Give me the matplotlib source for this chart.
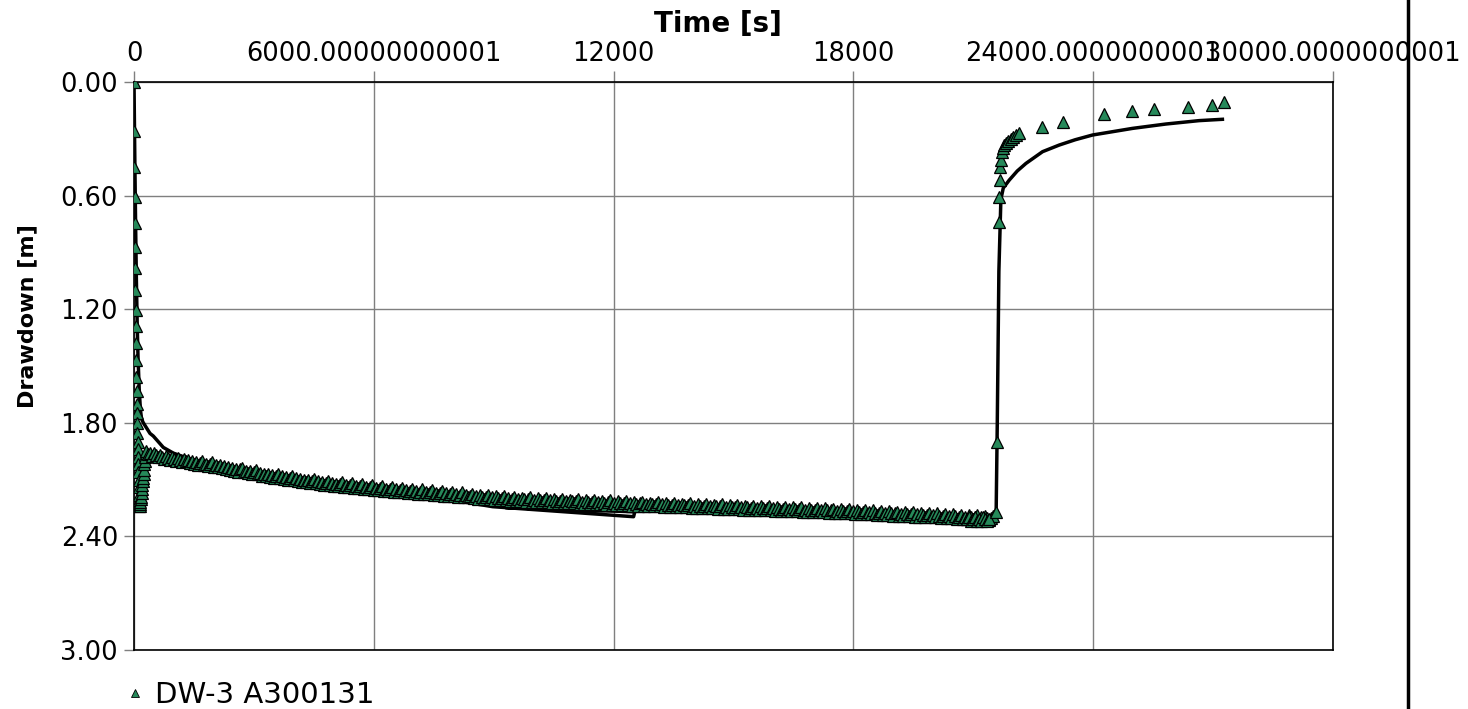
import matplotlib
matplotlib.use("Agg")
import matplotlib.pyplot as plt
from matplotlib.lines import Line2D

plt.rcParams['font.family'] = ['DejaVu Sans']

# ---- axis ticks -----------------------------------------------------------
x_ticks = [0, 6000, 12000, 18000, 24000, 30000]
x_tick_labels = ["0", "6000.00000000001", "12000", "18000",
                 "24000.0000000001", "30000.0000000001"]
y_ticks = [0.0, 0.6, 1.2, 1.8, 2.4, 3.0]
y_tick_labels = ["0.00", "0.60", "1.20", "1.80", "2.40", "3.00"]

series_name = "DW-3 A300131"

# ---- observed drawdown: early pumping (fast drop and rebound) -------------
early_t = [0, 5, 10, 15, 20, 25, 30, 35, 40, 45, 50, 55, 60, 65, 70, 75, 80,
           85, 90, 95, 100, 105, 110, 115, 120, 125, 130, 135,
           140, 150, 160, 170, 180, 190, 200, 210, 220, 230, 240, 250, 260,
           270, 280, 290]
early_s = [0.00, 0.26, 0.45, 0.61, 0.745, 0.87, 0.98, 1.10, 1.205, 1.29, 1.38,
           1.47, 1.56, 1.63, 1.70, 1.75, 1.80, 1.855, 1.90, 1.94, 1.98, 2.02,
           2.06, 2.10, 2.14, 2.18, 2.21, 2.24,
           2.24, 2.23, 2.22, 2.20, 2.19, 2.17, 2.15, 2.13, 2.11, 2.09, 2.07,
           2.05, 2.02, 2.00, 1.98, 1.96]

# ---- observed drawdown: logger readings every 50 s, 300 s .. 21500 s -------
pump_t = list(range(300, 21550, 50))
pump_s = [
    1.950, 1.966, 1.958, 1.976, 1.962, 1.971, 1.983, 1.968, 1.979, 1.990,
    1.974, 1.986, 1.995, 1.981, 1.992, 2.001, 1.985, 1.997, 2.006, 1.992,
    2.004, 1.996, 2.011, 2.002, 2.017, 2.006, 2.021, 2.010, 2.003, 2.024,
    2.015, 2.029, 2.018, 2.009, 2.031, 2.022, 2.036, 2.025, 2.040, 2.030,
    2.044, 2.033, 2.049, 2.038, 2.052, 2.043, 2.058, 2.046, 2.037, 2.061,
    2.052, 2.066, 2.055, 2.070, 2.059, 2.049, 2.073, 2.064, 2.079, 2.068,
    2.082, 2.071, 2.086, 2.075, 2.090, 2.079, 2.068, 2.093, 2.083, 2.097,
    2.086, 2.100, 2.089, 2.080, 2.103, 2.093, 2.107, 2.096, 2.111, 2.100,
    2.113, 2.102, 2.117, 2.106, 2.096, 2.120, 2.110, 2.124, 2.113, 2.127,
    2.116, 2.106, 2.130, 2.119, 2.133, 2.122, 2.136, 2.125, 2.115, 2.138,
    2.128, 2.141, 2.130, 2.119, 2.144, 2.133, 2.147, 2.136, 2.125, 2.149,
    2.138, 2.152, 2.141, 2.130, 2.155, 2.143, 2.157, 2.146, 2.135, 2.159,
    2.148, 2.161, 2.150, 2.139, 2.164, 2.152, 2.166, 2.155, 2.144, 2.168,
    2.157, 2.170, 2.159, 2.148, 2.172, 2.161, 2.174, 2.163, 2.152, 2.176,
    2.165, 2.178, 2.167, 2.156, 2.180, 2.169, 2.182, 2.171, 2.160, 2.184,
    2.173, 2.186, 2.175, 2.164, 2.188, 2.177, 2.190, 2.179, 2.168, 2.192,
    2.181, 2.194, 2.186, 2.175, 2.197, 2.188, 2.200, 2.183, 2.192, 2.203,
    2.191, 2.180, 2.205, 2.194, 2.206, 2.187, 2.197, 2.208, 2.196, 2.186,
    2.209, 2.198, 2.211, 2.200, 2.190, 2.213, 2.202, 2.214, 2.196, 2.205,
    2.216, 2.204, 2.193, 2.217, 2.206, 2.218, 2.199, 2.208, 2.219, 2.207,
    2.197, 2.220, 2.209, 2.221, 2.203, 2.212, 2.223, 2.211, 2.200, 2.224,
    2.213, 2.225, 2.206, 2.215, 2.226, 2.214, 2.204, 2.227, 2.216, 2.228,
    2.209, 2.218, 2.229, 2.217, 2.207, 2.230, 2.219, 2.231, 2.212, 2.221,
    2.232, 2.220, 2.210, 2.233, 2.222, 2.234, 2.215, 2.224, 2.235, 2.223,
    2.213, 2.236, 2.225, 2.237, 2.218, 2.227, 2.238, 2.226, 2.216, 2.239,
    2.228, 2.240, 2.221, 2.230, 2.241, 2.229, 2.219, 2.242, 2.231, 2.243,
    2.224, 2.233, 2.244, 2.232, 2.222, 2.245, 2.234, 2.246, 2.227, 2.236,
    2.247, 2.235, 2.225, 2.248, 2.237, 2.249, 2.229, 2.238, 2.250, 2.239,
    2.228, 2.251, 2.240, 2.252, 2.232, 2.241, 2.253, 2.242, 2.231, 2.254,
    2.243, 2.255, 2.234, 2.244, 2.256, 2.245, 2.235, 2.257, 2.246, 2.258,
    2.238, 2.247, 2.259, 2.248, 2.237, 2.260, 2.249, 2.261, 2.240, 2.250,
    2.262, 2.251, 2.241, 2.263, 2.252, 2.264, 2.243, 2.253, 2.265, 2.254,
    2.244, 2.266, 2.255, 2.267, 2.246, 2.256, 2.268, 2.257, 2.247, 2.269,
    2.258, 2.270, 2.249, 2.259, 2.271, 2.260, 2.250, 2.272, 2.261, 2.273,
    2.252, 2.262, 2.274, 2.263, 2.253, 2.275, 2.264, 2.276, 2.256, 2.266,
    2.278, 2.267, 2.257, 2.279, 2.268, 2.280, 2.259, 2.270, 2.282, 2.271,
    2.261, 2.283, 2.272, 2.284, 2.263, 2.274, 2.286, 2.275, 2.265, 2.287,
    2.276, 2.288, 2.267, 2.278, 2.290, 2.279, 2.269, 2.291, 2.280, 2.292,
    2.271, 2.282, 2.294, 2.283, 2.273, 2.295, 2.284, 2.296, 2.275, 2.286,
    2.298, 2.287, 2.277, 2.299, 2.288, 2.300, 2.279, 2.290, 2.302, 2.291,
    2.281, 2.303, 2.292, 2.304, 2.283, 2.294, 2.306, 2.295, 2.285, 2.307,
    2.296, 2.308, 2.287, 2.298, 2.310, 2.299, 2.289, 2.311, 2.300, 2.312,
    2.291, 2.302, 2.313, 2.301, 2.292,
]

# denser readings just before the pump was switched off
late_t = [20850, 20900, 20950, 21000, 21050, 21100, 21150, 21200, 21250,
          21300, 21350, 21400]
late_s = [2.31, 2.30, 2.32, 2.31, 2.30, 2.32, 2.31, 2.32, 2.30, 2.31, 2.32,
          2.31]

# ---- observed drawdown: recovery ------------------------------------------
rec_t = [21567, 21600, 21633, 21650, 21665, 21675, 21690, 21710, 21740, 21780,
         21830, 21880, 21940, 22000, 22080, 22150, 22717, 23250, 24258, 24983,
         25525, 26375, 26967, 27275]
rec_s = [2.27, 1.90, 0.738, 0.609, 0.518, 0.447, 0.41, 0.368, 0.35, 0.335,
         0.32, 0.31, 0.30, 0.29, 0.28, 0.271, 0.239, 0.213, 0.171, 0.151,
         0.142, 0.134, 0.121, 0.107]

# ---- fitted model curve ---------------------------------------------------
model_t = [0, 20, 40, 60, 80, 100, 130, 160, 190, 233, 400, 483, 733, 983,
           1650, 3000, 6000, 8975, 12500, 12530, 9300, 9400, 12600, 15000,
           18000, 21000, 21570, 21600, 21640, 21690, 21750, 21900, 22100,
           22317, 22733, 23150, 23550, 23983, 24983, 25817, 26650, 27233]
model_s = [0.0, 0.40, 0.75, 1.05, 1.28, 1.45, 1.62, 1.73, 1.78, 1.80, 1.856,
           1.87, 1.93, 1.96, 2.01, 2.06, 2.14, 2.243, 2.296, 2.27, 2.248,
           2.22, 2.235, 2.25, 2.27, 2.29, 2.30, 1.80, 1.0, 0.62, 0.56, 0.518,
           0.47, 0.43, 0.368, 0.333, 0.305, 0.28, 0.245, 0.222, 0.204, 0.197]

obs_t = early_t + pump_t + late_t + rec_t
obs_s = early_s + pump_s + late_s + rec_s

marker_green = "#26895A"
grid_grey = "#7f7f7f"

W, H = 1468, 709
fig = plt.figure(figsize=(W / 100, H / 100), dpi=100)
ax = fig.add_axes([134 / W, 1 - 650 / H, (1333 - 134) / W, (650 - 82) / H])

ax.plot(model_t, model_s, color="black", lw=2.5, zorder=2,
        solid_joinstyle="round")
ax.plot(obs_t, obs_s, ls="none", marker="^", ms=8, mfc=marker_green,
        mec="black", mew=0.9, zorder=3)

ax.set_xlim(0, 30000)
ax.set_ylim(3.0, 0.0)
ax.set_xticks(x_ticks)
ax.set_xticklabels(x_tick_labels)
ax.set_yticks(y_ticks)
ax.set_yticklabels(y_tick_labels)

ax.grid(True, color=grid_grey, lw=1.0, zorder=0)
ax.set_axisbelow(True)
for sp in ax.spines.values():
    sp.set_color("black")
    sp.set_linewidth(1.2)

ax.tick_params(axis="x", top=True, bottom=False, labeltop=True,
               labelbottom=False, length=8, width=1, color=grid_grey,
               labelsize=18.5, pad=2.5)
ax.tick_params(axis="y", length=7.2, width=1, color=grid_grey,
               labelsize=18.5, pad=4.3)

ax.xaxis.set_label_position("top")
ax.set_xlabel("Time [s]", fontsize=20, fontweight="bold")
ax.xaxis.label.set_va("center")
ax.xaxis.set_label_coords(0.487, 1.102)

ax.set_ylabel("Drawdown [m]", fontsize=16, fontweight="bold")
ax.yaxis.label.set_va("center")
ax.yaxis.set_label_coords(-0.089, 0.588)

legend_handle = Line2D([], [], ls="none", marker="^", ms=6,
                       mfc=marker_green, mec="black", mew=0.6)
fig.legend([legend_handle], [series_name], loc="center left",
           bbox_to_anchor=(126 / W, 1 - 695 / H), frameon=False,
           fontsize=21, handlelength=0.6, handletextpad=0.4,
           borderpad=0, borderaxespad=0)

fig.add_artist(Line2D([1408 / W, 1408 / W], [0, 1],
                      transform=fig.transFigure, color="black", lw=2.5))

fig.savefig("out.png", dpi=100)
